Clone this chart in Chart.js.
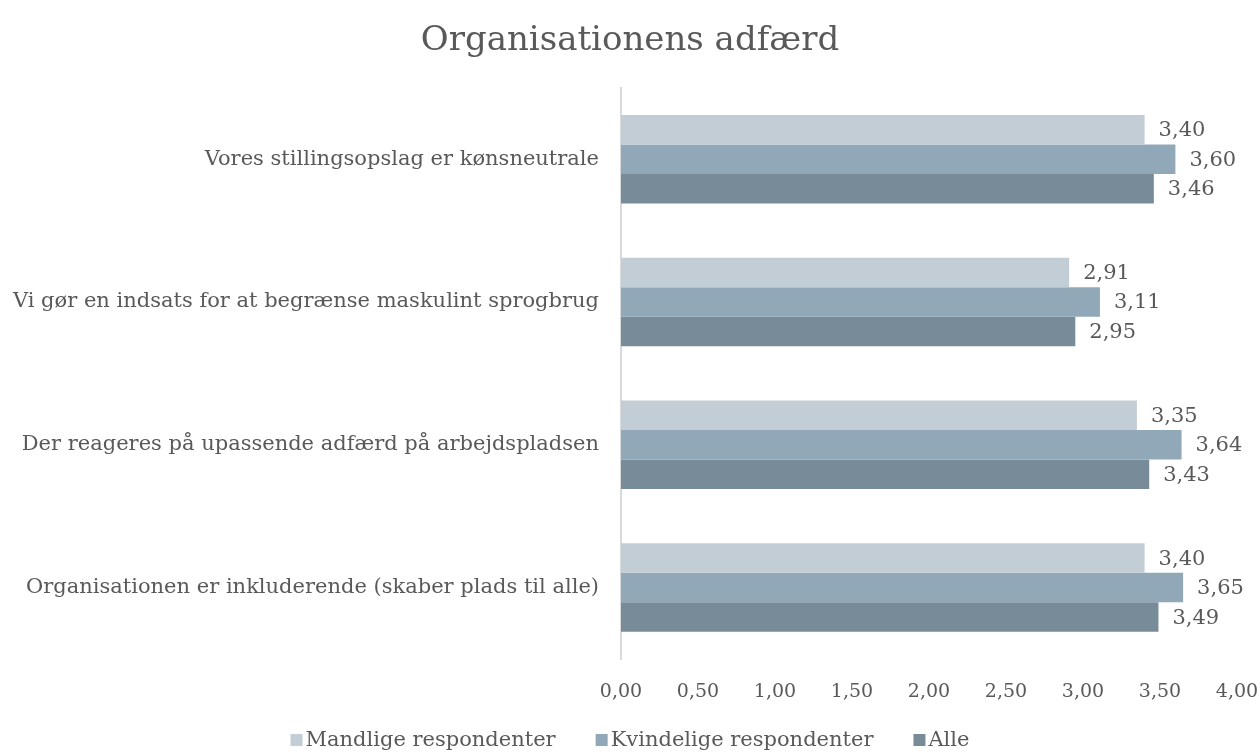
<!DOCTYPE html>
<html>
<head>
<meta charset="utf-8">
<script src="https://cdn.jsdelivr.net/npm/chart.js@4.4.1/dist/chart.umd.min.js"></script>
<style>
html,body{margin:0;padding:0;background:#fff;}
#wrap{width:1260px;height:752px;position:relative;}
</style>
</head>
<body>
<div id="wrap"><canvas id="c" width="1260" height="752"></canvas></div>
<script>
const categories = [
  "Vores stillingsopslag er kønsneutrale",
  "Vi gør en indsats for at begrænse maskulint sprogbrug",
  "Der reageres på upassende adfærd på arbejdspladsen",
  "Organisationen er inkluderende (skaber plads til alle)"
];
const seriesNames = ["Mandlige respondenter", "Kvindelige respondenter", "Alle"];
const mandlige = [3.40, 2.91, 3.35, 3.40];
const kvindelige = [3.60, 3.11, 3.64, 3.65];
const alle = [3.46, 2.95, 3.43, 3.49];
const xTicks = [0, 0.5, 1, 1.5, 2, 2.5, 3, 3.5, 4];
const colors = ["#C3CDD5", "#91A8B8", "#788B98"];

const FONT = "'DejaVu Serif', 'Liberation Serif', serif";
const TXT = "#595959";
const fmt = v => v.toFixed(2).replace('.', ',');

const labelPlugin = {
  id: 'valueLabels',
  afterDatasetsDraw(chart) {
    const ctx = chart.ctx;
    ctx.save();
    ctx.font = "21px " + FONT;
    ctx.fillStyle = TXT;
    ctx.textAlign = 'left';
    ctx.textBaseline = 'middle';
    chart.data.datasets.forEach((ds, i) => {
      const meta = chart.getDatasetMeta(i);
      meta.data.forEach((bar, j) => {
        ctx.fillText(fmt(ds.data[j]), bar.x + 14, bar.y + 1);
      });
    });
    ctx.restore();
  }
};

// legend drawn from the datasets, with wide item spacing
const legendPlugin = {
  id: 'customLegend',
  afterDraw(chart) {
    const ctx = chart.ctx;
    ctx.save();
    ctx.font = "21px " + FONT;
    ctx.textBaseline = 'middle';
    ctx.textAlign = 'left';
    const box = 12, gapBox = 3, gapItem = 40;
    const items = chart.data.datasets.map(ds => ({ text: ds.label, color: ds.backgroundColor, w: box + gapBox + ctx.measureText(ds.label).width }));
    const total = items.reduce((s, it) => s + it.w, 0) + gapItem * (items.length - 1);
    let x = (chart.width - total) / 2;
    const y = 740;
    items.forEach(it => {
      ctx.fillStyle = it.color;
      ctx.fillRect(x, y - box / 2, box, box);
      ctx.fillStyle = TXT;
      ctx.fillText(it.text, x + box + gapBox, y + 1);
      x += it.w + gapItem;
    });
    ctx.restore();
  }
};

new Chart(document.getElementById('c'), {
  type: 'bar',
  data: {
    labels: categories,
    datasets: [
      { label: seriesNames[0], data: mandlige, backgroundColor: colors[0] },
      { label: seriesNames[1], data: kvindelige, backgroundColor: colors[1] },
      { label: seriesNames[2], data: alle, backgroundColor: colors[2] }
    ]
  },
  options: {
    indexAxis: 'y',
    responsive: false,
    animation: false,
    devicePixelRatio: 1,
    layout: { padding: { left: 0, right: 0, top: 0, bottom: 0 } },
    datasets: { bar: { categoryPercentage: 0.62, barPercentage: 1.0 } },
    plugins: {
      title: {
        display: true,
        text: "Organisationens adfærd",
        color: TXT,
        font: { family: FONT, size: 34, weight: 'normal' },
        padding: { top: 21, bottom: 26 }
      },
      legend: { display: false },
      tooltip: { enabled: false }
    },
    scales: {
      x: {
        min: 0, max: 4,
        afterBuildTicks(scale) { scale.ticks = xTicks.map(v => ({ value: v })); },
        ticks: {
          color: TXT,
          font: { family: FONT, size: 19 },
          padding: 22,
          maxRotation: 0,
          callback: v => fmt(v)
        },
        grid: { display: false, drawTicks: false },
        border: { display: false },
        afterFit(scale) { scale.height = 93; scale.paddingRight = 23; scale.paddingLeft = 0; }
      },
      y: {
        ticks: {
          color: TXT,
          font: { family: FONT, size: 21 },
          padding: 22
        },
        grid: { display: false, drawTicks: false },
        border: { display: true, color: '#D9D9D9', width: 2 },
        afterFit(scale) { scale.width = 621; }
      }
    }
  },
  plugins: [labelPlugin, legendPlugin]
});
</script>
</body>
</html>
